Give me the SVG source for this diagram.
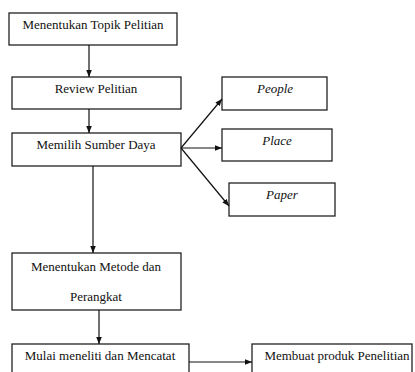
<svg xmlns="http://www.w3.org/2000/svg" width="415" height="372" viewBox="0 0 415 372">
<defs>
<marker id="ah" viewBox="0 0 10 10" refX="10" refY="5" markerWidth="7" markerHeight="7" orient="auto" markerUnits="userSpaceOnUse">
<path d="M0,1 L10,5 L0,9 Z" fill="#111"/>
</marker>
<style>
.box{fill:#fff;stroke:#222;stroke-width:1.3}
.t{font-size:13px;fill:#111;text-anchor:middle}
.i{font-style:italic}
.c{stroke:#111;stroke-width:1.2;fill:none}
</style>
</defs>
<rect width="415" height="372" fill="#fff"/>
<g font-family="Liberation Serif, Times New Roman, serif">
<g id="n1"><rect class="box" x="9" y="13" width="168" height="32"/><text class="t" x="93" y="29">Menentukan Topik Pelitian</text></g>
<g id="n2"><rect class="box" x="12" y="77" width="169" height="32"/><text class="t" x="96" y="93">Review Pelitian</text></g>
<g id="n3"><rect class="box" x="12" y="133" width="169" height="33"/><text class="t" x="96" y="149">Memilih Sumber Daya</text></g>
<g id="n4"><rect class="box" x="222" y="77" width="105" height="33"/><text class="t i" x="275" y="93">People</text></g>
<g id="n5"><rect class="box" x="222" y="129" width="110" height="32"/><text class="t i" x="277" y="145">Place</text></g>
<g id="n6"><rect class="box" x="229" y="183" width="106" height="33"/><text class="t i" x="282" y="199">Paper</text></g>
<g id="n7"><rect class="box" x="12" y="253" width="169" height="57"/><text class="t" x="96" y="271">Menentukan Metode dan</text><text class="t" x="96" y="301">Perangkat</text></g>
<g id="n8"><rect class="box" x="12" y="344" width="177" height="40"/><text class="t" x="100" y="360">Mulai meneliti dan Mencatat</text></g>
<g id="n9"><rect class="box" x="252" y="344" width="160" height="40"/><text class="t" x="337" y="360">Membuat produk Penelitian</text></g>
</g>
<g id="connectors">
<line class="c" x1="89" y1="45" x2="89" y2="77" marker-end="url(#ah)"/>
<line class="c" x1="89" y1="109" x2="89" y2="133" marker-end="url(#ah)"/>
<line class="c" x1="181" y1="148" x2="222" y2="99" marker-end="url(#ah)"/>
<line class="c" x1="181" y1="148" x2="222" y2="148" marker-end="url(#ah)"/>
<line class="c" x1="181" y1="148" x2="229" y2="206" marker-end="url(#ah)"/>
<line class="c" x1="93" y1="166" x2="93" y2="253" marker-end="url(#ah)"/>
<line class="c" x1="99" y1="310" x2="99" y2="344" marker-end="url(#ah)"/>
<line class="c" x1="189" y1="362" x2="252" y2="362" marker-end="url(#ah)"/>
</g>
</svg>
